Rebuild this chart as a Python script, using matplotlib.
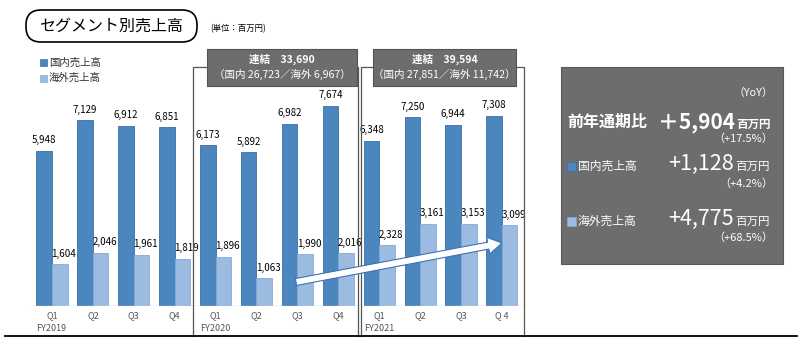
import matplotlib
matplotlib.use("Agg")
import matplotlib.pyplot as plt
from matplotlib.patches import FancyBboxPatch, Rectangle, FancyArrow

plt.rcParams['font.family'] = ['Noto Sans CJK JP', 'DejaVu Sans']

# ---- データ（単位：百万円）----
q_labels = ['Q1', 'Q2', 'Q3', 'Q4', 'Q1', 'Q2', 'Q3', 'Q4', 'Q1', 'Q2', 'Q3', 'Q 4']
years = ['FY2019', 'FY2020', 'FY2021']
domestic = [5948, 7129, 6912, 6851, 6173, 5892, 6982, 7674, 6348, 7250, 6944, 7308]
overseas = [1604, 2046, 1961, 1819, 1896, 1063, 1990, 2016, 2328, 3161, 3153, 3099]
header_totals = ['連結　33,690', '連結　39,594']
header_breakdown = ['（国内 26,723／海外 6,967）', '（国内 27,851／海外 11,742）']
legend_labels = ['国内売上高', '海外売上高']
yoy_labels = ['前年通期比', '国内売上高', '海外売上高']
yoy_values = ['＋5,904', '+1,128', '+4,775']
yoy_pct = ['（+17.5%）', '（+4.2%）', '（+68.5%）']

C_DOM = '#4b86be'
C_DOM_EDGE = '#3a6fa8'
C_OVS = '#9bbbe0'
C_OVS_EDGE = '#86a9d6'
C_BOX = '#6d6d6d'

fig = plt.figure(figsize=(8, 3.45), dpi=100)

# ---- 棒グラフ ----
ax = fig.add_axes([20 / 800, 39 / 345, 505 / 800, 266 / 345])
w = 0.38
x = list(range(len(domestic)))
ax.bar([i - w / 2 for i in x], domestic, width=w, color=C_DOM, edgecolor=C_DOM_EDGE, linewidth=0.6)
ax.bar([i + w / 2 for i in x], overseas, width=w, color=C_OVS, edgecolor=C_OVS_EDGE, linewidth=0.6)
ax.set_xlim(-0.782, 11.565)
ax.set_ylim(0, 10207)
ax.axhline(0, xmin=12 / 505, xmax=1, color='#c8c8c8', lw=1)
for s in ax.spines.values():
    s.set_visible(False)
ax.set_xticks([])
ax.set_yticks([])

for i in x:
    ax.annotate(f'{domestic[i]:,}', (i - w / 2, domestic[i]), xytext=(0, 4),
                textcoords='offset points', ha='center', va='bottom', fontsize=7)
    ax.annotate(f'{overseas[i]:,}', (i + w / 2, overseas[i]), xytext=(3, 4),
                textcoords='offset points', ha='center', va='bottom', fontsize=7)
    ax.annotate(q_labels[i], (i, 0), xytext=(0, -7), textcoords='offset points',
                ha='center', va='center', fontsize=6.5, color='#555555', annotation_clip=False)
for k, yr in enumerate(years):
    ax.annotate(yr, (4 * k - 0.38, 0), xytext=(0, -16.5), textcoords='offset points',
                ha='left', va='center', fontsize=6.5, color='#555555', annotation_clip=False)

# ---- 装飾（ピクセル座標のオーバーレイ）----
ov = fig.add_axes([0, 0, 1, 1], facecolor='none')
ov.set_xlim(0, 800)
ov.set_ylim(345, 0)
ov.axis('off')

# タイトル
ov.add_patch(FancyBboxPatch((26, 10), 171, 32, boxstyle='round,pad=0,rounding_size=15',
                            fc='white', ec='black', lw=1.2))
ov.text(111, 26.5, 'セグメント別売上高', ha='center', va='center', fontsize=11.5)
ov.text(210, 29, '(単位：百万円)', ha='left', va='center', fontsize=6)

# 凡例
for k, (lab, c, ec) in enumerate(zip(legend_labels, [C_DOM, C_OVS], [C_DOM_EDGE, C_OVS_EDGE])):
    yy = 62.5 + 15.5 * k
    ov.add_patch(Rectangle((40, yy - 3.5), 7, 7, fc=c, ec=ec, lw=0.5))
    ov.text(49, yy, lab, ha='left', va='center', fontsize=7.5, color='#333333')

# 年度枠とヘッダー
frames = [(193, 358, 207, 357), (361, 524, 373, 516)]
for (fl, fr, hl, hr), tot, brk in zip(frames, header_totals, header_breakdown):
    ov.plot([fl, fl, hl], [336, 67, 67], color='#555555', lw=0.9)
    ov.plot([hr, fr, fr], [67, 67, 336], color='#555555', lw=0.9)
    ov.add_patch(Rectangle((hl, 49), hr - hl, 37, fc=C_BOX, ec='#555555', lw=0.8))
    ov.text((hl + hr) / 2, 59, tot, ha='center', va='center', fontsize=7.6,
            color='white', fontweight='bold')
    ov.text((hl + hr) / 2, 74.5, brk, ha='center', va='center', fontsize=7.6, color='white')

# 下線
ov.plot([5, 797], [336, 336], color='black', lw=1.3)

# 矢印
ov.add_patch(FancyArrow(296, 282, 206, -39, width=7, head_width=17, head_length=14,
                        length_includes_head=True, fc='white', ec='#3d72b5', lw=0.8, zorder=5))

# 前年比パネル
ov.add_patch(Rectangle((561, 67), 222, 197, fc=C_BOX, ec='#5a5a5a', lw=0.8))
ov.text(773, 93, '（YoY）', ha='right', va='center', fontsize=7.8, color='white')
rows_y = [128, 170, 225]
pct_y = [139, 184, 238]
for k in range(3):
    if k == 0:
        ov.text(567, rows_y[k] - 6, yoy_labels[k], ha='left', va='center', fontsize=11.5,
                color='white', fontweight='bold')
        ov.text(735, rows_y[k], yoy_values[k], ha='right', va='baseline', fontsize=15,
                color='white', fontweight='bold')
        ov.text(736, rows_y[k], '百万円', ha='left', va='baseline', fontsize=8.3,
                color='white', fontweight='bold')
    else:
        c, ec = (C_DOM, C_DOM_EDGE) if k == 1 else (C_OVS, C_OVS_EDGE)
        ov.add_patch(Rectangle((567, rows_y[k] - 8.5), 9, 9, fc=c, ec=ec, lw=0.5))
        ov.text(578, rows_y[k] - 4, yoy_labels[k], ha='left', va='center', fontsize=8.5,
                color='white')
        ov.text(734, rows_y[k], yoy_values[k], ha='right', va='baseline', fontsize=15.5,
                color='white')
        ov.text(735, rows_y[k], '百万円', ha='left', va='baseline', fontsize=8.3,
                color='white')
    ov.text(773, pct_y[k], yoy_pct[k], ha='right', va='center', fontsize=8, color='white')

fig.savefig('out.png', dpi=100)
